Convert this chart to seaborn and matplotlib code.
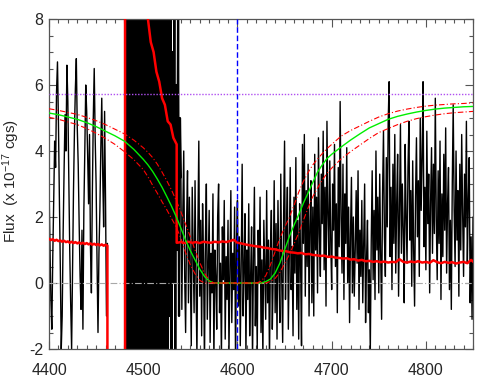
import numpy as np
import matplotlib
matplotlib.use("Agg")
import matplotlib.pyplot as plt
from matplotlib.ticker import MultipleLocator
import seaborn as sns

# ---------------- data ----------------
# observed spectrum, left piece (1 A steps from 4400)
flux_left = [3.0, 1.2, -0.5, -1.4, 0.8, 2.5, 4.3, 3.5, 5.8, 6.7,
             4.9, 2.6, 0.5, -2.0, -1.0, 1.5, 3.4, 5.1, 4.0, 6.6,
             5.5, 3.2, 1.0, -0.6, -2.0, 0.4, 2.8, 4.6, 5.9, 6.8,
             4.7, 3.6, 1.8, 0.2, -0.8, 1.6, -1.4, 2.2, 4.0, 6.0,
             5.2, 3.9, 2.4, 4.5, 1.1, -0.3, 2.7, 5.0, 6.5, 4.4,
             3.0, 0.6, -1.5, 0.9, 2.2, 4.1, 5.6, 3.3, 1.7, 5.2,
             2.5, -1.0, 1.2]
wl_left_start = 4400

# observed spectrum, noisy blended region (1 A steps from 4481)
flux_mid = [14, -9, 18, -6, 11, -12, 20, -4, 9, -15,
            16, -7, 13, -10, 22, -3, 8, -11, 17, -8,
            12, -14, 19, -5, 10, -9, 15, -6, 21, -2,
            9, -12, 14, -7, 11, -4, 16, -10, 13, -3,
            10, -6, 12, -2, 9, -5, 8, -1, 11, -3,
            7, 0, 9, -2, 6, 1, 8, -1, 5]
wl_mid_start = 4481

# observed spectrum, right piece (1 A steps from 4540)
flux_right = [3.2, -0.8, 2.1, 4.0, 0.2, -1.5, 1.8, 3.4, -0.6, 2.6,
              0.4, -1.9, 2.9, 1.1, -0.9, 3.1, 0.0, -2.2, 1.6, 4.3,
              -0.4, 1.9, -1.6, 2.4, 0.7, -2.5, 1.3, 3.0, -1.1, 0.5,
              2.2, -1.8, 0.9, -0.3, 2.7, -2.4, 1.0, 0.2, -1.4, 2.0,
              3.0, -0.9, 0.6, -2.3, 1.7, 0.1, 2.5, -1.7, 0.8, -0.5,
              1.9, -2.1, 0.3, 2.8, -1.2, 0.9, -0.2, 2.3, -2.6, 1.2,
              2.5, -0.7, 1.4, -1.9, 0.6, 3.6, -1.0, 0.4, 2.1, -2.2,
              1.0, -0.5, 2.4, -1.6, 0.2, 1.7, -2.4, 0.8, 2.9, -1.3,
              0.5, -2.0, 1.6, 0.0, 2.6, -1.5, 0.7, -2.3, 1.9, 0.4,
              -1.1, 2.8, -0.6, 1.3, -2.4, 0.9, 2.2, -1.4, 0.3, 3.1,
              -0.9, 1.8, -1.7, 2.5, 0.4, -1.2, 3.3, 0.1, -1.8, 2.0,
              4.3, -0.5, 1.5, 2.9, -1.4, 0.8, 3.5, -0.2, 1.1, -1.6,
              2.6, 0.3, 3.8, -0.8, 1.9, -1.7, 2.4, 0.6, -1.9, 4.2,
              1.2, 4.5, -0.4, 2.8, 0.5, 3.6, -1.0, 1.7, 3.1, -0.6,
              2.3, -1.0, 3.9, 1.0, 2.6, -0.3, 4.4, 1.5, 0.2, 3.3,
              1.8, 4.6, 0.4, 2.9, -0.7, 4.9, 2.1, 0.8, 3.7, 1.3,
              -0.2, 3.0, 1.6, 4.2, 0.5, 2.4, -0.9, 3.5, 1.1, 5.5,
              2.0, 0.3, 3.6, -0.5, 2.7, 1.2, 4.1, 0.0, 2.3, -1.2,
              1.5, 3.2, -0.3, 2.0, -0.4, 1.0, 2.8, 0.6, 3.4, -0.8,
              1.6, 0.2, 2.5, -0.6, 1.1, 3.0, -1.2, 0.7, 1.9, -0.9,
              0.4, -2.1, 1.3, 3.4, 0.1, 2.2, -0.5, 4.0, 1.0, 2.6,
              -0.3, 3.3, 0.9, -1.1, 2.7, 4.6, 1.4, 0.2, 3.8, 1.7,
              4.9, 6.1, 0.8, 2.9, -0.2, 3.6, 1.2, 4.5, 0.3, 2.4,
              3.9, -0.4, 2.1, 4.8, 0.9, 3.0, 1.6, -0.6, 4.2, 2.0,
              0.6, 3.5, 4.9, 1.3, 2.8, -0.1, 3.7, 1.0, -0.7, 2.6,
              4.4, 1.4, 3.1, 0.2, 5.0, 2.2, 3.8, 6.1, 1.1, 2.9,
              0.4, 4.6, 1.8, 3.3, -0.3, 2.5, 4.1, 0.9, 3.6, 1.5,
              5.6, 2.0, 0.1, 3.4, 1.2, 4.3, -0.5, 2.7, 0.8, 3.9,
              1.6, 4.7, 0.3, 2.4, 3.5, -0.2, 1.9, -0.8, 3.0, 5.4,
              2.2, 0.5, 4.0, 1.3, 2.8, -0.4, 3.6, 1.0, 4.5, 2.1,
              0.2, 3.3, 1.7, 4.9, 0.6, 2.5, 3.8, -0.6, 1.4, -1.1,
              2.0]
wl_right_start = 4540

# error spectrum, left piece (2 A steps from 4400), then drop
err_left = [1.34, 1.30, 1.33, 1.28, 1.31, 1.27, 1.29, 1.25, 1.28, 1.24,
            1.26, 1.22, 1.25, 1.21, 1.24, 1.20, 1.23, 1.19, 1.22, 1.18,
            1.21, 1.17, 1.20, 1.16, 1.19, 1.15, 1.18, 1.14, 1.17, 1.13,
            1.16, 1.13]
err_left_drop = -3.0

# error spectrum, blended region (explicit wavelengths)
err_mid_wl = [4480.7, 4480.7, 4495, 4505, 4508, 4511, 4514, 4517, 4520,
              4523, 4526, 4529, 4532, 4535.5, 4535.5]
err_mid = [-3.0, 12.0, 11.0, 8.0, 7.3, 7.0, 6.4, 6.1, 5.6,
           5.4, 4.9, 4.8, 4.4, 4.2, 1.22]

# error spectrum, right piece (4 A steps from 4536)
err_right = [1.22, 1.24, 1.21, 1.25, 1.22, 1.24, 1.21, 1.25, 1.23, 1.22,
             1.25, 1.23, 1.26, 1.24, 1.27, 1.31, 1.22, 1.20, 1.17, 1.15,
             1.13, 1.11, 1.10, 1.07, 1.06, 1.03, 1.02, 0.99, 0.97, 0.96,
             0.93, 0.92, 0.90, 0.91, 0.87, 0.88, 0.85, 0.84, 0.82, 0.83,
             0.79, 0.80, 0.77, 0.76, 0.74, 0.75, 0.71, 0.72, 0.68, 0.70,
             0.66, 0.67, 0.64, 0.66, 0.63, 0.65, 0.62, 0.64, 0.63, 0.72,
             0.64, 0.62, 0.65, 0.63, 0.66, 0.62, 0.64, 0.61, 0.69, 0.63,
             0.60, 0.64, 0.61, 0.63, 0.59, 0.62, 0.64, 0.60, 0.70, 0.60]
err_right_start = 4536

# model profile and its bounds
model_wl = [4400, 4410, 4420, 4430, 4440, 4450, 4460, 4470, 4480, 4490,
            4500, 4505, 4510, 4515, 4520, 4525, 4530, 4535, 4540, 4545,
            4550, 4555, 4560, 4565, 4570, 4575, 4580, 4585, 4590, 4595,
            4600, 4605, 4610, 4615, 4620, 4625, 4630, 4635, 4640, 4645,
            4650, 4655, 4660, 4665, 4670, 4675, 4680, 4685, 4690, 4695,
            4700, 4710, 4720, 4730, 4740, 4750, 4760, 4770, 4780, 4790,
            4800, 4810, 4820, 4830, 4840, 4850]
model_fit = [5.15, 5.10, 5.03, 4.96, 4.86, 4.74, 4.60, 4.46, 4.30, 4.05,
             3.75, 3.58, 3.38, 3.15, 2.90, 2.62, 2.33, 2.01, 1.66, 1.30,
             0.98, 0.70, 0.42, 0.20, 0.06, 0.0, 0.0, 0.0, 0.0, 0.0,
             0.0, 0.0, 0.0, 0.0, 0.0, 0.0, 0.04, 0.12, 0.30, 0.60,
             1.00, 1.40, 1.75, 2.07, 2.42, 2.73, 3.05, 3.36, 3.58, 3.77,
             3.90, 4.12, 4.33, 4.52, 4.70, 4.83, 4.96, 5.05, 5.12, 5.18,
             5.23, 5.27, 5.30, 5.32, 5.34, 5.35]
model_upper = [5.28, 5.23, 5.17, 5.11, 5.02, 4.92, 4.80, 4.66, 4.52, 4.33,
               4.10, 3.96, 3.80, 3.60, 3.36, 3.10, 2.82, 2.50, 2.16, 1.78,
               1.40, 1.00, 0.62, 0.30, 0.08, 0.0, 0.0, 0.0, 0.0, 0.0,
               0.0, 0.0, 0.0, 0.0, 0.0, 0.05, 0.22, 0.55, 0.95, 1.35,
               1.68, 1.98, 2.35, 2.75, 3.08, 3.35, 3.58, 3.76, 3.92, 4.07,
               4.20, 4.45, 4.62, 4.76, 4.90, 5.03, 5.13, 5.21, 5.27, 5.32,
               5.36, 5.39, 5.41, 5.43, 5.44, 5.46]
model_lower = [5.02, 4.96, 4.88, 4.80, 4.68, 4.54, 4.38, 4.20, 3.98, 3.74,
               3.44, 3.22, 2.96, 2.72, 2.46, 2.22, 1.96, 1.70, 1.35, 0.92,
               0.55, 0.28, 0.08, 0.0, 0.0, 0.0, 0.0, 0.0, 0.0, 0.0,
               0.0, 0.0, 0.0, 0.0, 0.0, 0.0, 0.0, 0.05, 0.14, 0.32,
               0.58, 0.86, 1.18, 1.52, 1.90, 2.28, 2.62, 2.88, 3.12, 3.32,
               3.48, 3.76, 3.98, 4.18, 4.38, 4.56, 4.68, 4.80, 4.90, 4.98,
               5.04, 5.09, 5.13, 5.16, 5.18, 5.20]

line_center = 4599
continuum_level = 5.74
x_ticks = [4400, 4500, 4600, 4700, 4800]
y_ticks = [-2, 0, 2, 4, 6, 8]
y_label = r"Flux  (x 10$^{-17}$ cgs)"

# ---------------- derived arrays ----------------
wl_left = wl_left_start + np.arange(len(flux_left))
wl_mid = wl_mid_start + np.arange(len(flux_mid))
wl_right = wl_right_start + np.arange(len(flux_right))

err_left_wl = list(wl_left_start + 2 * np.arange(len(err_left))) + [wl_left_start + 2 * (len(err_left) - 1)]
err_left_full = err_left + [err_left_drop]
err_r_wl = err_right_start + 4 * np.arange(len(err_right))
err_b_wl = np.concatenate([err_mid_wl, err_r_wl])
err_b = np.concatenate([err_mid, err_right])

# ---------------- plot ----------------
sns.set_theme(style="ticks")
plt.rcParams["font.family"] = ["Liberation Sans", "DejaVu Sans"]
plt.rcParams["mathtext.fontset"] = "custom"
plt.rcParams["mathtext.rm"] = "Liberation Sans"
plt.rcParams["mathtext.it"] = "Liberation Sans:italic"
plt.rcParams["axes.unicode_minus"] = False

fig = plt.figure(figsize=(4.98, 3.88), dpi=100)
ax = fig.add_axes([49 / 498, 39 / 388, 424 / 498, 330 / 388])

sns.lineplot(x=wl_left, y=flux_left, ax=ax, color="black", lw=1.0,
             sort=False, estimator=None)
sns.lineplot(x=np.concatenate([wl_mid, wl_right[:1]]),
             y=np.concatenate([flux_mid, flux_right[:1]]),
             ax=ax, color="black", lw=1.6, sort=False, estimator=None)
sns.lineplot(x=wl_right, y=flux_right, ax=ax, color="black", lw=1.0,
             sort=False, estimator=None)

ax.axhline(0, color="#a8a8a8", lw=0.8, linestyle=(0, (6, 2, 1, 2)), zorder=3)

sns.lineplot(x=err_left_wl, y=err_left_full, ax=ax, color="red", lw=1.8,
             sort=False, estimator=None, zorder=4)
sns.lineplot(x=err_b_wl, y=err_b, ax=ax, color="red", lw=1.8,
             sort=False, estimator=None, zorder=4)

sns.lineplot(x=model_wl, y=model_fit, ax=ax, color="#00ee00", lw=1.0,
             sort=False, estimator=None, zorder=5)
sns.lineplot(x=model_wl, y=model_upper, ax=ax, color="red", lw=0.8,
             linestyle=(0, (5, 2, 1, 2)), sort=False, estimator=None, zorder=5)
sns.lineplot(x=model_wl, y=model_lower, ax=ax, color="red", lw=0.8,
             linestyle=(0, (5, 2, 1, 2)), sort=False, estimator=None, zorder=5)

ax.axvline(line_center, color="blue", lw=1.0, linestyle=(0, (4, 2)), zorder=6)
ax.axhline(continuum_level, color="#b050f0", lw=1.0, linestyle=(0, (1, 1.2)), zorder=6)

ax.set_xlim(4400, 4850)
ax.set_ylim(-2, 8)
ax.set_xticks(x_ticks)
ax.set_yticks(y_ticks)
ax.set_xticklabels([str(t) for t in x_ticks])
ax.set_yticklabels([str(t) for t in y_ticks])
ax.xaxis.set_minor_locator(MultipleLocator(10))
ax.yaxis.set_minor_locator(MultipleLocator(0.5))
ax.tick_params(which="both", direction="in", top=True, right=True,
               color="#555555", width=0.8)
ax.tick_params(which="major", length=6)
ax.tick_params(which="minor", length=3)
ax.tick_params(axis="x", which="major", labelsize=11.5, pad=10)
ax.tick_params(axis="y", which="major", labelsize=11.5, pad=4)
for s in ax.spines.values():
    s.set_color("#555555")
    s.set_linewidth(0.9)

ax.set_xlabel("")
ax.set_ylabel(y_label, fontsize=11)
ax.yaxis.set_label_coords(-0.064, 0.51)

fig.savefig("out.png", dpi=100)
